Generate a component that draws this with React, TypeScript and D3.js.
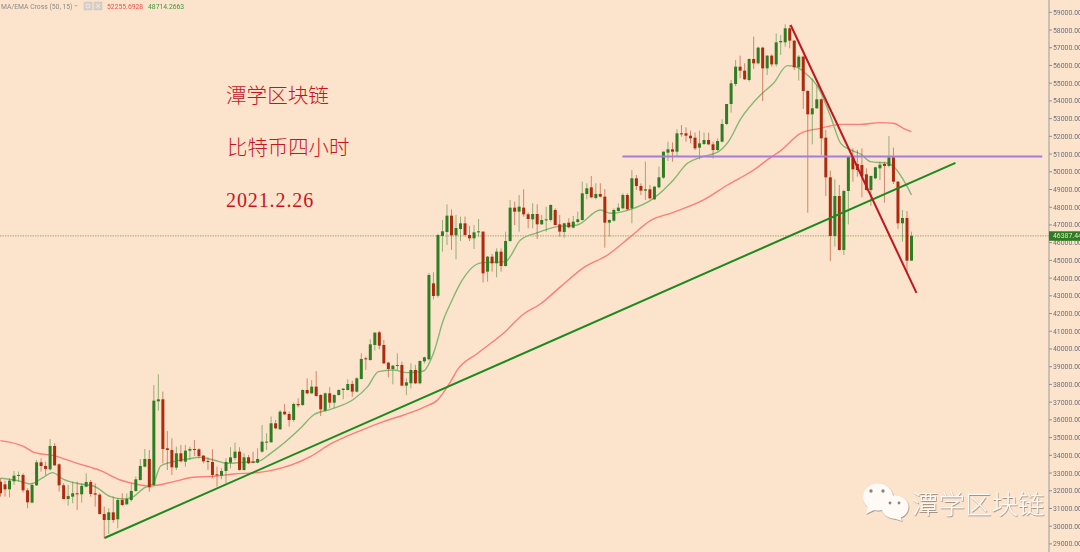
import React from "react";
import * as d3 from "d3";

const opens = [32510,32360,32080,32532,32852,32890,32024,31328,32306,33604,33397,33209,34526,33491,32306,31535,31667,31855,31798,32231,32494,31855,31780,30689,30350,30783,30388,31479,31234,31479,31987,32607,33360,33793,32325,37047,37159,34394,34300,33303,34112,33642,34263,34357,34338,33981,33680,33623,32927,32852,33115,33586,33849,34206,33172,33886,33642,33586,34206,34733,34733,35805,35467,36464,36332,35993,36896,36840,37686,37498,37874,37404,36520,37498,36972,37404,37686,37686,38025,37592,38307,39473,39379,40226,40940,40226,39229,38871,39041,39097,37931,38062,38815,38062,39304,39417,43705,43000,46377,46602,47524,46414,46772,47091,46433,46245,46583,46621,44364,45210,44834,45493,44684,46094,47975,47750,47975,47599,47317,47618,47035,47279,47279,47844,47035,46602,47129,46847,47167,47279,48747,49123,48521,48747,48596,47129,47242,47787,47938,48690,47938,49631,49198,48935,49010,48446,49123,49668,51079,51267,51135,52170,52170,52038,51925,51361,51568,51794,51549,51229,51700,52697,53826,54954,55932,55707,55180,56365,56120,57005,55838,56553,56064,57306,57306,58096,57400,55895,56497,54559,53243,53581,54089,51926,49687,46377,48634,45587,48916,50891,50440,50384,49857,48973,49631,50195,50440,50327,50816,49443,47092,47393,44985];
const highs = [32700,32570,32701,33115,33078,32984,32137,32457,33736,33830,33642,34921,34677,33548,32419,32325,32513,32513,32419,32984,32607,32419,31855,31103,31008,31667,31573,31855,31855,32419,32796,33793,34357,34300,37968,38570,37592,35372,34959,34488,34582,34582,34488,34865,34394,34018,33868,34338,33360,33266,33830,34451,34714,34451,34112,34018,34206,34394,35711,35241,36181,35993,36558,36896,36464,36971,37216,37724,38345,38251,38758,37442,37536,37837,37442,37724,37780,38288,38213,38401,39755,39567,40545,40940,41016,40508,39285,39097,39755,39285,38345,39191,39097,39342,39567,44280,44326,46500,47279,48164,47881,47562,47468,47468,46941,46997,47336,46640,45248,45361,45681,45681,46621,48408,48314,48690,49010,47693,48220,48164,47562,48032,48164,47938,47562,47129,47374,47505,47750,49443,49349,49762,49349,49349,49029,47317,47938,48220,48784,48784,50101,49819,49349,50571,49254,49198,50289,51135,51700,51662,52396,52640,52509,52320,52208,52320,52208,52208,51700,51888,52960,53825,55180,56309,56553,56120,56403,57625,57061,57061,56591,56628,57813,57719,58321,58284,57437,56591,56553,54615,55274,54898,54145,52358,50064,49575,49255,48973,50891,51324,51230,51324,50195,49782,50289,50572,50572,52020,51362,49481,47844,47788,46621];
const lows = [31670,31670,31629,32325,32513,31911,31008,31290,32269,33078,32890,33134,33397,31949,31516,31159,31290,30915,31328,32193,31667,31103,30651,29316,29560,30200,29880,31140,31197,31385,31949,32570,33322,31949,32269,36520,33548,33172,32890,33172,33586,33360,33736,33962,33830,33548,33172,32701,32231,32645,32419,33266,33736,33134,33134,33510,33548,33548,34150,34300,34714,35467,35429,36276,35617,35899,36708,36783,37442,37461,37310,36219,36464,36652,36652,37367,37160,37649,37310,37555,38288,38815,39342,39906,39981,39154,38401,38006,38815,37912,37404,37780,38025,38006,39191,39350,42800,42900,45493,45869,45587,45060,46094,46339,46094,45643,46339,43762,43800,44364,44044,44364,44646,46057,46997,46621,47468,46809,46809,46207,46997,46621,47185,46960,46339,46282,46809,46809,47091,47242,48446,48502,48446,48559,45718,46339,47185,47750,47881,47806,47091,48972,48690,48408,48446,48408,49066,49593,50609,50571,50891,51982,51700,51606,51229,50703,51512,51512,50759,51173,51662,52640,53337,54841,55274,55180,55086,55801,56064,53995,55462,55932,55932,56591,57061,56967,55744,55142,53544,47694,51550,53544,50948,48634,44966,45775,45549,45305,47035,49443,49725,48559,48935,48070,49575,49537,48258,50252,49311,46772,46057,44270,44966];
const closes = [31860,32080,32570,32852,32890,32024,31347,32325,33604,33397,33228,34526,33435,32306,31535,31705,31855,31817,32269,32494,31817,31780,30689,30350,30783,30350,31479,31197,31535,31987,32645,33397,33793,32193,37084,37159,34357,34300,33322,34112,33661,34263,34357,34300,33962,33661,33623,32890,32890,33115,33623,33886,34206,33172,33886,33548,33604,33793,34771,34771,35805,35523,36464,36313,35993,36896,36821,37686,37498,37874,37348,36595,37498,36972,37404,37686,37761,38025,37592,38345,39436,39417,40263,40922,40188,39191,38871,39059,39097,37931,38119,38815,38062,39323,39530,44176,42991,46433,46640,47524,46414,46828,47091,46433,46245,46583,46640,44270,45210,44834,45493,44684,46094,47975,47750,48032,47599,47336,47618,47035,47279,47317,48126,46997,46621,47091,46866,47185,47317,48784,49066,48559,48747,48596,47129,47279,47844,47975,48690,47881,49631,49198,48935,49010,48502,49160,49687,51135,51267,51135,52170,52132,52038,51888,51323,51606,51794,51549,51229,51737,52697,53825,54992,55932,55707,55218,56365,56120,57005,55838,56553,56064,57306,57381,58096,57400,55895,56497,54559,53243,53581,54089,51888,49687,46377,48634,45587,48916,50891,50139,50101,49763,48973,49763,50252,50402,50327,50816,49443,47092,47393,44985,46387];

const maBars = [0,5.2,7.4,11.8,17,22.2,26.6,30.3,33.2,38.4,42.8,47.3,51.7,56.9,59.9,68.7,73.2,80.5,84.9,89.4,93.8,96.9,99.8,101.3,105.8,111.5,116,119.7,124.2,129.3,134.6,139.7,144.1,149.2,155.9,161.2,167,170.7,173,177.4,181.8,186.3,190.7,195.1,198,200.2,202];
const maVals = [34827,34488,34169,33980,33548,33134,32607,32363,32269,32513,32758,32814,32946,33021,33134,33924,34640,35467,35900,36276,36708,37122,38157,38815,39755,40884,41975,42539,43517,44590,45304,46339,47242,47712,48408,49255,50101,50797,51192,52170,52452,52678,52678,52772,52735,52452,52264];
const emaBars = [0,3.8,6.7,9.5,11.5,14,17.7,20.6,24.4,27.3,29.5,31.7,33.9,35.5,37.7,41.5,44.3,47.2,50.3,53.9,57,59.9,66.5,69.4,73.2,78.3,81.4,83.8,87.1,90.2,93.8,96,98.2,99.8,102.4,105.3,106.9,111.9,115.3,119.1,123.5,127.9,133,135.3,139.7,144.8,149.2,152.3,155.2,159.2,161.4,164.1,168.5,171.4,174.5,176.3,178.9,181.2,184,186.3,188.5,190.7,192.9,196.7,198.4,200.2,202];
const emaVals = [32701,32570,32382,32758,33021,32645,32382,32269,31667,31535,31667,32137,32419,33397,33604,33793,33886,33736,33548,33604,33642,34112,35523,36276,36595,37160,37874,38721,38815,38664,38758,39755,41636,42577,43894,44740,44872,44928,46151,46565,46903,46997,47844,47656,47881,48502,49537,50477,50816,51135,51700,52970,54334,54992,55989,55932,55462,54804,53160,51606,51230,51004,50571,50478,50195,49537,48690];

const greenTrend: [number, number][] = [[23.06,29335],[211.75,50500]];
const redTrend: [number, number][] = [[175.2,58283],[203.1,43167]];
const purpleLevel: [number, number][] = [[137.9,50863],[231,50863]];

const lastPrice = 46387.44;
const indicatorName = "MA/EMA Cross (50, 15)";
const indicatorValues = ["52255.6928", "48714.2663"];
const titles = ["潭学区块链", "比特币四小时"];
const dateLabel = "2021.2.26";
const brand = "潭学区块链";

const W = 1080, H = 552;
const BG = "#fbe3cc";
const UP = "#2f7d22", DOWN = "#ae2a10";
const AXIS_X = 1049;
const CJK = "'Noto Sans CJK SC', sans-serif";

const x = d3.scaleLinear().domain([0, 202]).range([0.5, 911.5]);
const y = d3.scaleLinear().domain([29000, 59000]).range([543.9, 12.3]);
const ticks = d3.range(29000, 59001, 1000);
const smooth = d3.line<[number, number]>().x(d => x(d[0])).y(d => y(d[1])).curve(d3.curveMonotoneX);
const straight = d3.line<[number, number]>().x(d => x(d[0])).y(d => y(d[1]));
const zip = (a: number[], b: number[]) => a.map((v, i) => [v, b[i]] as [number, number]);

export default function App() {
  return (
    <svg width={W} height={H} viewBox={`0 0 ${W} ${H}`}
      style={{ position: "fixed", left: 0, top: 0, display: "block", background: BG }}>
      <defs>
        <filter id="soft" x="-2%" y="-2%" width="104%" height="104%">
          <feGaussianBlur stdDeviation="0.3" />
        </filter>
        <filter id="brandShadow" x="-10%" y="-10%" width="120%" height="130%">
          <feDropShadow dx="0.6" dy="0.8" stdDeviation="0.5" floodColor="#6b6258" floodOpacity="0.75" />
        </filter>
      </defs>
      <rect width={W} height={H} fill={BG} />
      <g filter="url(#soft)">
        <line x1={0} x2={AXIS_X} y1={y(lastPrice)} y2={y(lastPrice)} stroke="#a3a96e" strokeOpacity={0.8} strokeWidth={1.2} strokeDasharray="1.5 1" />
        <path d={smooth(zip(maBars, maVals)) ?? ""} fill="none" stroke="#fb7f78" strokeWidth={1.4} />
        <path d={smooth(zip(emaBars, emaVals)) ?? ""} fill="none" stroke="#84b873" strokeWidth={1.4} />
        {opens.map((o, i) => {
          const c = closes[i];
          const color = c >= o ? UP : DOWN;
          const top = y(Math.max(o, c));
          const h = Math.max(1, Math.abs(y(o) - y(c)));
          return (
            <g key={i}>
              <line x1={x(i)} x2={x(i)} y1={y(highs[i])} y2={y(lows[i])} stroke={color} strokeOpacity={0.5} />
              <rect x={x(i) - 1.5} width={3} y={top} height={h} fill={color} />
            </g>
          );
        })}
        <path d={straight(purpleLevel) ?? ""} stroke="#a57fd6" strokeWidth={2} fill="none" />
        <path d={straight(greenTrend) ?? ""} stroke="#1c8a1f" strokeWidth={2} fill="none" />
        <path d={straight(redTrend) ?? ""} stroke="#c2131f" strokeWidth={2} fill="none" />

        <line x1={AXIS_X} x2={AXIS_X} y1={0} y2={H} stroke="#a9a7a3" strokeWidth={1.2} />
        {ticks.map(t => (
          <g key={t}>
            <line x1={AXIS_X} x2={AXIS_X + 3} y1={y(t)} y2={y(t)} stroke="#8f9096" />
            <text x={1053} y={y(t) + 2.5} fontSize={6.9} fontFamily="Roboto, sans-serif" fill="#6c7180">
              {t.toFixed(2)}
            </text>
          </g>
        ))}
        <rect x={AXIS_X} y={y(lastPrice) - 4.5} width={W - AXIS_X} height={9.5} fill="#2f7d22" />
        <text x={1053} y={y(lastPrice) + 2.6} fontSize={6.9} fontFamily="Roboto, sans-serif" fill="#dfe8d0">
          {lastPrice.toFixed(2)}
        </text>

        <text x={1} y={9} fontSize={6.8} fontFamily="Roboto, sans-serif" fill="#8b8b8b">{indicatorName}</text>
        <path d="M74 5 L78 5 L76 7 Z" fill="#bdbdbd" />
        <rect x={84} y={2} width={8} height={8} fill="#d6d0c8" stroke="#c8c3bc" strokeWidth={0.5} />
        <circle cx={88} cy={6} r={2} fill="none" stroke="#f2ece4" strokeWidth={0.8} />
        <rect x={94} y={2} width={8} height={8} fill="#d6d0c8" stroke="#c8c3bc" strokeWidth={0.5} />
        <path d="M96 4 L100 8 M100 4 L96 8" stroke="#f2ece4" strokeWidth={0.8} />
        <text x={107} y={9} fontSize={6.8} fontFamily="Roboto, sans-serif" fill="#f2504a">{indicatorValues[0]}</text>
        <text x={148} y={9} fontSize={6.8} fontFamily="Roboto, sans-serif" fill="#3d9a3a">{indicatorValues[1]}</text>
      </g>

      <text x={226} y={103} fontSize={20.6} fontWeight={300} fontFamily={CJK} fill="#c8141e">{titles[0]}</text>
      <text x={227} y={155} fontSize={20.4} fontWeight={300} fontFamily={CJK} fill="#c8141e">{titles[1]}</text>
      <text x={226} y={207} fontSize={20} letterSpacing={0.9} fontFamily="'Liberation Serif', serif" fill="#c8141e">{dateLabel}</text>

      <g filter="url(#brandShadow)" fill="#fffaf6">
        <ellipse cx={878} cy={497} rx={15} ry={13.5} />
        <path d="M868 505 L866 514 L876 509 Z" />
        <ellipse cx={895} cy={507} rx={13.5} ry={11.5} />
        <path d="M900 516 L902 521 L893 518 Z" />
        <text x={912} y={514} fontSize={26.5} fontWeight={300} fontFamily={CJK}>{brand}</text>
      </g>
      <g fill="#8d8479">
        <circle cx={871} cy={491} r={1.7} />
        <circle cx={883} cy={491} r={1.7} />
        <circle cx={890} cy={503} r={1.4} />
        <circle cx={899} cy={503} r={1.4} />
      </g>
    </svg>
  );
}
